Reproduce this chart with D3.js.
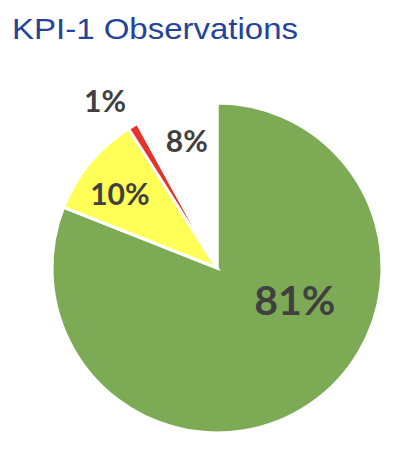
<!DOCTYPE html>
<html>
<head>
<meta charset="utf-8">
<script src="https://cdn.jsdelivr.net/npm/d3@7"></script>
<style>
  body { margin: 0; background: #fff; }
  .title { font-family: "Liberation Sans", Arial, sans-serif; fill: #24439a; }
  .pie-label { font-family: Lato, "Open Sans", sans-serif; font-weight: bold; fill: #404040; }
</style>
</head>
<body>
<div id="viz"></div>
<script>
// chart data
var categories = ["Green", "Yellow", "Red", "None"];
var values = [81, 10, 1, 8];
var labels = ["81%", "10%", "1%", "8%"];

var colors = ["#7dab55", "#ffff57", "#e8332a", "#ffffff"];

// label placement (fraction of radius, angle nudge in degrees)
var labelRadius = [0.51, 0.74, 1.22, 0.79];
var labelShift = [-33.5, -2.3, -3.2, 1];
var labelSize = [41, 30, 30, 30];

var width = 412, height = 460;
var cx = 217, cy = 268, radius = 165;

var svg = d3.select("#viz").append("svg")
    .attr("width", width)
    .attr("height", height);

svg.append("text")
    .attr("class", "title")
    .attr("x", 12)
    .attr("y", 39)
    .attr("textLength", 286)
    .attr("lengthAdjust", "spacingAndGlyphs")
    .style("font-size", "30px")
    .text("KPI-1 Observations");

var pie = d3.pie()
    .sort(null)
    .value(function(d){ return d; });

var arc = d3.arc()
    .innerRadius(0)
    .outerRadius(radius);

var arcs = pie(values);

var g = svg.append("g")
    .attr("transform", "translate(" + cx + "," + cy + ")");

g.selectAll("path")
    .data(arcs)
  .enter().append("path")
    .attr("d", arc)
    .style("fill", function(d, i){ return colors[i]; })
    .style("stroke", "#fff")
    .style("stroke-width", 3)
    .style("stroke-linejoin", "miter");

g.selectAll("text")
    .data(arcs)
  .enter().append("text")
    .attr("class", "pie-label")
    .attr("text-anchor", "middle")
    .attr("dy", "0.36em")
    .attr("x", function(d, i){
      var a = (d.startAngle + d.endAngle) / 2 + labelShift[i] * Math.PI / 180;
      return Math.sin(a) * radius * labelRadius[i];
    })
    .attr("y", function(d, i){
      var a = (d.startAngle + d.endAngle) / 2 + labelShift[i] * Math.PI / 180;
      return -Math.cos(a) * radius * labelRadius[i];
    })
    .style("font-size", function(d, i){ return labelSize[i] + "px"; })
    .text(function(d, i){ return labels[i]; });
</script>
</body>
</html>
